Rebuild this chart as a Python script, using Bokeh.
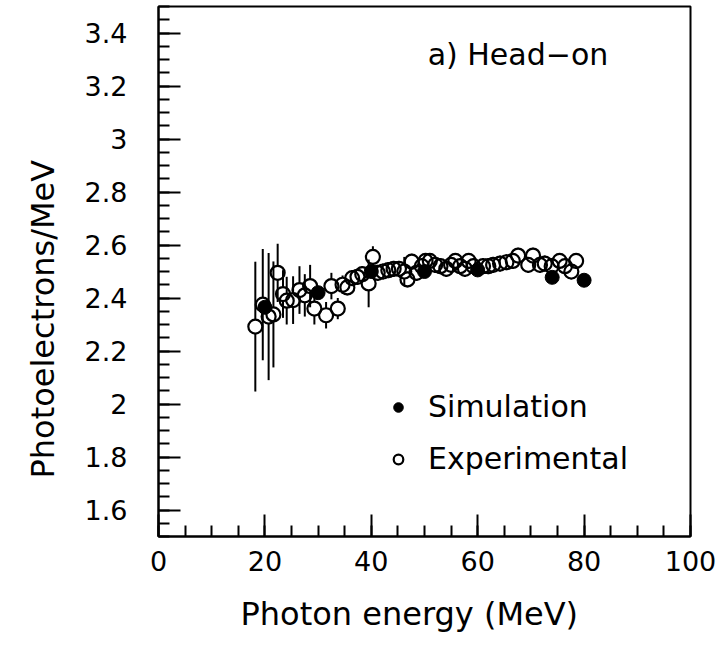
from bokeh.plotting import figure
from bokeh.models import FixedTicker, Label, Legend, LegendItem, Range1d, Title
from bokeh.embed import file_html
from bokeh.resources import INLINE

# ---------------- data ----------------
sim_energy = [20, 30, 40, 50, 60, 74, 80]
sim_value = [2.365, 2.42, 2.50, 2.50, 2.506, 2.478, 2.467]

exp_energy = [18.2, 19.6, 20.7, 21.6, 22.4, 23.4, 24.1, 25.3, 26.5, 27.5,
              28.5, 29.3, 31.5, 32.5, 33.7, 34.6, 35.5, 36.4, 37.4, 38.3,
              39.5, 40.3, 41.2, 42.2, 43.2, 44.2, 45.2, 46.2, 46.8, 47.6,
              48.5, 49.5, 50.2, 51.0, 52.0, 53.0, 54.1, 55.0, 55.8, 56.7,
              57.6, 58.3, 59.2, 61.0, 62.0, 62.9, 64.2, 65.4, 66.6, 67.6,
              69.5, 70.4, 71.7, 72.6, 73.9, 75.4, 76.4, 77.6, 78.5]
exp_value = [2.292, 2.375, 2.33, 2.338, 2.495, 2.415, 2.39, 2.392, 2.43, 2.41,
             2.445, 2.36, 2.335, 2.445, 2.36, 2.45, 2.44, 2.475, 2.48, 2.49,
             2.455, 2.555, 2.495, 2.50, 2.505, 2.51, 2.51, 2.50, 2.47, 2.537,
             2.495, 2.52, 2.54, 2.54, 2.525, 2.52, 2.51, 2.525, 2.54, 2.52,
             2.51, 2.54, 2.52, 2.52, 2.52, 2.525, 2.53, 2.535, 2.54, 2.56,
             2.525, 2.56, 2.525, 2.53, 2.52, 2.54, 2.52, 2.50, 2.54]
exp_error = [0.245, 0.21, 0.24, 0.20, 0.11, 0.09, 0.09, 0.09, 0.09, 0.08,
             0.08, 0.06, 0.05, 0.05, 0.04, 0.035, 0.03, 0.03, 0.03, 0.03,
             0.09, 0.04, 0.03, 0.03, 0.03, 0.03, 0.03, 0.055, 0.03, 0.03,
             0.03, 0.03, 0.03, 0.03, 0.03, 0.03, 0.03, 0.03, 0.03, 0.03,
             0.03, 0.03, 0.03, 0.03, 0.03, 0.03, 0.03, 0.03, 0.03, 0.03,
             0.03, 0.03, 0.03, 0.03, 0.03, 0.03, 0.03, 0.03, 0.03]

x_ticks = [0, 20, 40, 60, 80, 100]
y_ticks = [1.6, 1.8, 2.0, 2.2, 2.4, 2.6, 2.8, 3.0, 3.2, 3.4]
y_tick_labels = ["1.6", "1.8", "2", "2.2", "2.4", "2.6", "2.8", "3", "3.2", "3.4"]

x_label = "Photon energy (MeV)"
y_label = "Photoelectrons/MeV"
panel_label = "a) Head\u2212on"
legend_labels = ["Simulation", "Experimental"]

# ---------------- styling ----------------
FONT = "DejaVu Sans"
W, H = 727, 653
LEFT, RIGHT, TOP, BOTTOM = 158, 37, 6, 117
XMIN, XMAX, YMIN, YMAX = 0, 100, 1.5, 3.5
MARKER = 14

p = figure(width=W, height=H, output_backend="svg", toolbar_location=None,
           x_range=Range1d(XMIN, XMAX), y_range=Range1d(YMIN, YMAX),
           min_border_left=LEFT, min_border_right=RIGHT,
           min_border_top=TOP, min_border_bottom=BOTTOM,
           background_fill_color="white", border_fill_color="white")
p.grid.visible = False
p.outline_line_color = "black"
p.outline_line_width = 2

minor_x = [5 * i for i in range(21)]
minor_y = [round(1.5 + 0.05 * i, 2) for i in range(41)]
p.xaxis.ticker = FixedTicker(ticks=x_ticks, minor_ticks=minor_x)
p.yaxis.ticker = FixedTicker(ticks=y_ticks, minor_ticks=minor_y)
p.yaxis.major_label_overrides = {t: s for t, s in zip(y_ticks, y_tick_labels)}

for ax in (p.xaxis[0], p.yaxis[0]):
    ax.axis_line_width = 2
    ax.axis_line_color = "black"
    ax.major_tick_line_width = 2
    ax.minor_tick_line_width = 2
    ax.major_tick_in = 22
    ax.major_tick_out = 0
    ax.minor_tick_in = 11
    ax.minor_tick_out = 0
    ax.major_label_text_font = FONT
    ax.major_label_text_font_size = "27px"
    ax.major_label_text_color = "black"
p.yaxis.major_label_standoff = 31
p.xaxis.major_label_standoff = 14

# axis titles as side titles (offset along the axis like the original)
p.add_layout(Title(text=y_label, align="left", offset=58, standoff=40,
                   text_font=FONT, text_font_size="32px",
                   text_font_style="normal", text_color="black"), "left")
p.add_layout(Title(text=x_label, align="left", offset=82, standoff=39,
                   text_font=FONT, text_font_size="32px",
                   text_font_style="normal", text_color="black"), "below")

# error bars drawn outside the open markers
px_per_unit = (H - TOP - BOTTOM) / (YMAX - YMIN)
gap = (MARKER / 2) / px_per_unit
up_x, up_y0, up_y1, dn_y0, dn_y1 = [], [], [], [], []
for e, v, s in zip(exp_energy, exp_value, exp_error):
    if s > gap:
        up_x.append(e)
        up_y0.append(v + gap)
        up_y1.append(v + s)
        dn_y0.append(v - s)
        dn_y1.append(v - gap)
p.segment(x0=up_x, y0=up_y0, x1=up_x, y1=up_y1, line_color="black", line_width=2)
p.segment(x0=up_x, y0=dn_y0, x1=up_x, y1=dn_y1, line_color="black", line_width=2)

exp_r = p.scatter(exp_energy, exp_value, size=MARKER, marker="circle",
                  fill_color=None, line_color="black", line_width=2.2)
sim_r = p.scatter(sim_energy, sim_value, size=MARKER, marker="circle",
                  fill_color="black", line_color="black", line_width=1)

legend = Legend(items=[LegendItem(label=legend_labels[0], renderers=[sim_r]),
                       LegendItem(label=legend_labels[1], renderers=[exp_r])],
                location=(228, 60), orientation="vertical",
                border_line_color=None, background_fill_alpha=0,
                padding=0, margin=0, spacing=17,
                glyph_width=24, glyph_height=30, label_height=30,
                label_standoff=18, label_text_font=FONT,
                label_text_font_size="30px", label_text_color="black",
                label_text_baseline="middle")
p.add_layout(legend)

p.add_layout(Label(x=50.6, y=3.32, text=panel_label, text_font=FONT,
                   text_font_size="30px", text_color="black",
                   text_baseline="middle", text_align="left"))

open("out.html", "w").write(file_html(p, INLINE))
